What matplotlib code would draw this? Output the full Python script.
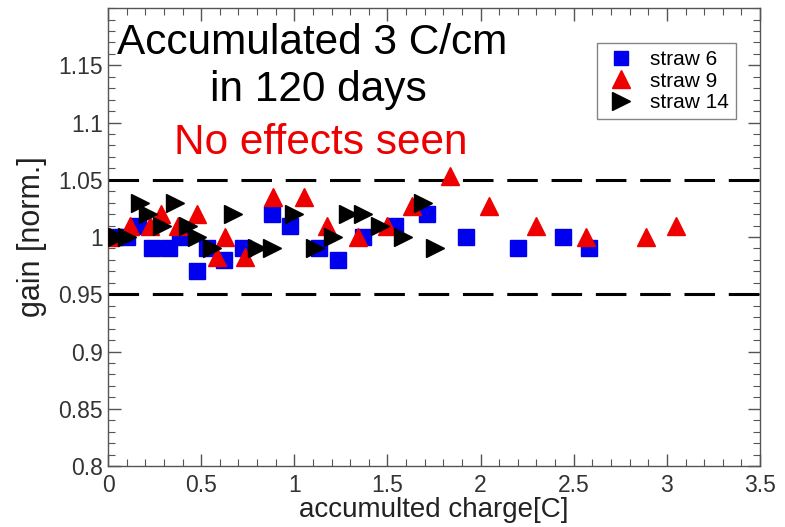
"""
Gain vs accumulated charge for three straws.
"""
import matplotlib
matplotlib.use('Agg')
import matplotlib.pyplot as plt
from matplotlib.ticker import MultipleLocator

plt.rcParams['font.family'] = ['Liberation Sans', 'DejaVu Sans']

# straw 6 (blue squares)
straw6_x = [0.04, 0.10, 0.16, 0.235, 0.325, 0.385, 0.48, 0.53, 0.62, 0.725, 0.88,
            0.977, 1.13, 1.235, 1.37, 1.54, 1.71, 1.92, 2.2, 2.44, 2.58]
straw6_y = [1.0, 1.0, 1.01, 0.99, 0.99, 1.0, 0.97, 0.99, 0.98, 0.99, 1.02,
            1.01, 0.99, 0.98, 1.0, 1.01, 1.02, 1.0, 0.99, 1.0, 0.99]

# straw 9 (red triangles)
straw9_x = [0.01, 0.12, 0.225, 0.285, 0.375, 0.475, 0.585, 0.63, 0.735, 0.885, 1.05,
            1.175, 1.34, 1.50, 1.63, 1.835, 2.045, 2.30, 2.565, 2.89, 3.05]
straw9_y = [1.0, 1.01, 1.01, 1.02, 1.01, 1.02, 0.983, 1.0, 0.983, 1.035, 1.035,
            1.01, 1.0, 1.01, 1.027, 1.053, 1.027, 1.01, 1.0, 1.0, 1.01]

# straw 14 (black right triangles)
straw14_x = [0.05, 0.10, 0.17, 0.215, 0.29, 0.36, 0.43, 0.48, 0.56, 0.67, 0.80,
             0.88, 1.0, 1.11, 1.21, 1.29, 1.37, 1.46, 1.585, 1.69, 1.755]
straw14_y = [1.0, 1.0, 1.03, 1.02, 1.01, 1.03, 1.01, 1.0, 0.99, 1.02, 0.99,
             0.99, 1.02, 0.99, 1.0, 1.02, 1.02, 1.01, 1.0, 1.03, 0.99]

limits = [0.95, 1.05]

fig = plt.figure(figsize=(7.85, 5.27), dpi=100)
ax = fig.add_axes([0.1376, 0.1157, 0.8306, 0.869])

ax.plot(straw6_x, straw6_y, 's', color='#0000ee', markersize=11, label='straw 6', zorder=3)
ax.plot(straw9_x, straw9_y, '^', color='#ee0000', markersize=13, label='straw 9', zorder=4)
ax.plot(straw14_x, straw14_y, '>', color='black', markersize=13, label='straw 14', zorder=5)

for lim in limits:
    ax.axhline(lim, color='black', lw=2.2, dashes=(10, 4.5), zorder=2)

ax.set_xlim(0, 3.5)
ax.set_ylim(0.8, 1.2)
ax.xaxis.set_minor_locator(MultipleLocator(0.1))
ax.yaxis.set_minor_locator(MultipleLocator(0.01))
ax.set_xticks([0, 0.5, 1, 1.5, 2, 2.5, 3, 3.5], ['0', '0.5', '1', '1.5', '2', '2.5', '3', '3.5'])
ax.set_yticks([0.8, 0.85, 0.9, 0.95, 1.0, 1.05, 1.1, 1.15],
              ['0.8', '0.85', '0.9', '0.95', '1', '1.05', '1.1', '1.15'])
ax.tick_params(which='both', direction='in', top=True, right=True, color='#555555',
               labelsize=16.5, labelcolor='#333333')
ax.tick_params(axis='x', pad=6)
ax.tick_params(axis='y', pad=3.5)
ax.tick_params(which='major', length=9, width=1)
ax.tick_params(which='minor', length=5, width=0.8)
for s in ax.spines.values():
    s.set_color('#555555')
    s.set_linewidth(1)

ax.set_xlabel('accumulted charge[C]', fontsize=20, color='#222222', labelpad=0)
ax.set_ylabel('gain [norm.]', fontsize=22, color='#222222', labelpad=8)

ax.text(1.095, 1.1694, 'Accumulated 3 C/cm', fontsize=30.5, ha='center', va='center')
ax.text(1.127, 1.128, 'in 120 days', fontsize=30.5, ha='center', va='center')
ax.text(1.14, 1.082, 'No effects seen', fontsize=30.5, ha='center', va='center', color='#ee0000')

leg = ax.legend(loc='upper right', bbox_to_anchor=(0.963, 0.924), borderaxespad=0,
                fontsize=15, frameon=True, fancybox=False, edgecolor='#666666', borderpad=0.35,
                handletextpad=0.6, labelspacing=0.12, markerscale=0.95, handlelength=1.6)
leg.get_frame().set_linewidth(1)

fig.savefig('out.png', dpi=100)
